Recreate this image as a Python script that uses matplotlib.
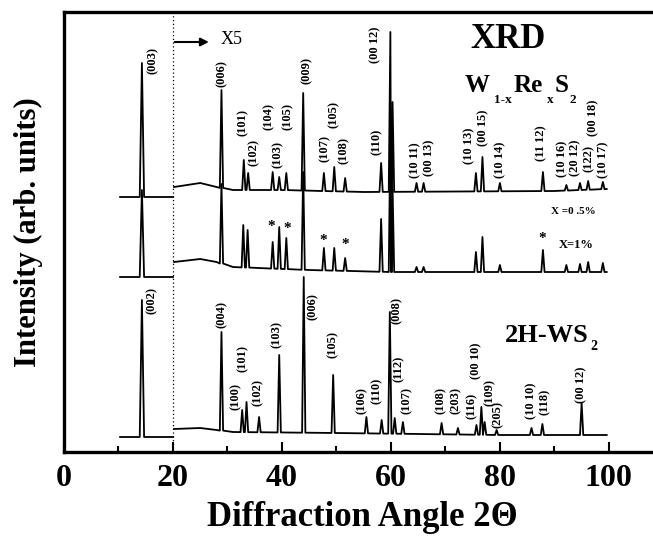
import numpy as np
import matplotlib
matplotlib.use('Agg')
import matplotlib.pyplot as plt

plt.rcParams['font.family'] = ['Liberation Serif', 'DejaVu Serif']
plt.rcParams['font.weight'] = 'bold'
plt.rcParams['axes.labelweight'] = 'bold'

# ---- x = 0.5 % sample (top trace) ----
top_left_pos = [14.3]
top_left_peak = [389]
top_left_base = 255
top_base_x = [20.2, 25.0, 28.0, 31.0, 40.0, 55.0, 90.0, 99.6]
top_base_y = [265, 269, 265, 262, 262, 260, 261, 263]
top_pos = [28.9, 33.0, 33.8, 38.3, 39.5, 40.8, 43.9, 47.7, 49.6, 51.6, 58.2,
           59.9, 60.3, 64.7, 66.0, 75.6, 76.8, 80.0, 87.9, 92.2, 94.7, 96.2, 98.9]
top_peak = [362, 292, 279, 280, 275, 279, 359, 279, 285, 274, 289,
            420, 350, 269, 269, 279, 295, 269, 280, 267, 269, 271, 270]

# ---- x = 1 % sample (middle trace) ----
mid_left_pos = [14.3]
mid_left_peak = [262]
mid_left_base = 175
mid_base_x = [20.2, 25.0, 28.0, 31.0, 45.0, 60.0, 99.6]
mid_base_y = [190, 193, 190, 185, 182, 180, 180]
mid_pos = [28.9, 32.9, 33.7, 38.3, 39.5, 40.8, 43.9, 47.7, 49.6, 51.6, 58.2,
           59.9, 60.3, 64.7, 66.0, 75.6, 76.8, 80.0, 87.9, 92.2, 94.7, 96.2, 98.9]
mid_peak = [268, 227, 222, 210, 225, 214, 280, 204, 204, 194, 233,
            320, 265, 185, 185, 200, 215, 187, 202, 187, 188, 190, 189]

# ---- 2H-WS2 (bottom trace) ----
bot_left_pos = [14.3]
bot_left_peak = [152]
bot_left_base = 15
bot_base_x = [20.2, 25.0, 28.0, 31.0, 50.0, 80.0, 99.6]
bot_base_y = [23, 24, 22, 20, 19, 17, 17]
bot_pos = [28.9, 32.7, 33.5, 35.8, 39.5, 44.0, 49.4, 55.5, 58.3, 59.8, 60.7,
           62.2, 69.3, 72.3, 75.7, 76.6, 77.2, 79.4, 85.8, 87.8, 95.0]
bot_peak = [120, 42, 50, 35, 97, 175, 77, 35, 32, 140, 34,
            30, 29, 24, 27, 45, 30, 22, 24, 28, 49]

# ---- peak labels ----
top_lbl = ['(003)', '(006)', '(101)', '(102)', '(104)', '(103)', '(105)', '(009)',
           '(107)', '(105)', '(108)', '(110)', '(00 12)', '(10 11)', '(00 13)',
           '(10 13)', '(00 15)', '(10 14)', '(11 12)', '(10 16)', '(20 12)',
           '(122)', '(00 18)', '(10 17)']
top_lbl_x = [16.3, 28.9, 32.9, 34.9, 37.5, 39.3, 41.0, 44.6, 47.9, 49.5, 51.4,
             57.4, 57.1, 64.4, 67.0, 74.3, 76.9, 80.0, 87.6, 91.5, 93.9, 96.3,
             97.1, 98.9]
top_lbl_y = [391, 378, 329, 299, 336, 298, 336, 382, 303, 338, 302, 310, 407,
             292, 294, 306, 324, 292, 309, 293, 294, 294, 334, 292]

bot_lbl = ['(002)', '(004)', '(100)', '(101)', '(102)', '(103)', '(006)', '(105)',
           '(106)', '(110)', '(008)', '(112)', '(107)', '(108)', '(203)', '(116)',
           '(00 10)', '(109)', '(205)', '(10 10)', '(118)', '(00 12)']
bot_lbl_x = [16.1, 28.9, 31.6, 32.8, 35.6, 39.0, 45.7, 49.4, 54.6, 57.4, 61.0,
             61.5, 62.9, 69.2, 71.9, 74.8, 75.7, 78.2, 79.7, 85.8, 88.3, 95.0]
bot_lbl_y = [151, 137, 55, 94, 59, 117, 145, 107, 51, 61, 142, 83, 51, 51, 51,
             46, 91, 59, 37, 51, 50, 67]

# impurity peaks in the 1 % sample
star_x = [38.1, 41.0, 47.5, 51.6, 87.8]
star_y = [225, 224, 212, 207, 214]


def pattern(x0, x1, base_x, base_y, pos, peak, hw):
    # baseline knots plus a narrow spike for every peak
    pts = [(x, y) for x, y in zip(base_x, base_y)
           if all(abs(x - p) > hw for p in pos)]
    for p, h in zip(pos, peak):
        b = np.interp(p, base_x, base_y)
        pts += [(p - hw, b), (p, h), (p + hw, b)]
    pts += [(x0, np.interp(x0, base_x, base_y)), (x1, np.interp(x1, base_x, base_y))]
    pts.sort()
    return [q[0] for q in pts], [q[1] for q in pts]


fig = plt.figure(figsize=(6.53, 5.38), dpi=100)
ax = fig.add_axes([64 / 653, 86 / 538, 589 / 653, 440 / 538])

lw = 1.3
for lp, lpk, lb, bx, by, ps, pk in [
        (top_left_pos, top_left_peak, top_left_base, top_base_x, top_base_y, top_pos, top_peak),
        (mid_left_pos, mid_left_peak, mid_left_base, mid_base_x, mid_base_y, mid_pos, mid_peak),
        (bot_left_pos, bot_left_peak, bot_left_base, bot_base_x, bot_base_y, bot_pos, bot_peak)]:
    xs, ys = pattern(10.3, 20.0, [10.3, 20.0], [lb, lb], lp, lpk, 0.4)
    ax.plot(xs, ys, color='k', lw=lw)
    xs, ys = pattern(20.2, 99.6, bx, by, ps, pk, 0.3)
    ax.plot(xs, ys, color='k', lw=lw)

for t, x, y in zip(top_lbl + bot_lbl, top_lbl_x + bot_lbl_x, top_lbl_y + bot_lbl_y):
    ax.text(x, y, t, rotation=90, ha='center', va='center', fontsize=9)

for x, y in zip(star_x, star_y):
    ax.text(x, y, '*', ha='center', va='center', fontsize=11)

ax.axvline(20, color='k', lw=0.9, ls=(0, (1, 2)))
ax.annotate('', xy=(27.1, 410), xytext=(19.8, 410),
            arrowprops=dict(arrowstyle='-|>', color='k', lw=1.5, mutation_scale=12))
ax.text(28.7, 412, 'X5', ha='left', va='center', fontsize=13, fontweight='normal')

ax.text(81.5, 412, 'XRD', ha='center', va='center', fontsize=25)
ax.text(73.6, 360, 'W', ha='left', va='baseline', fontsize=18)
ax.text(78.9, 349, '1-x', ha='left', va='baseline', fontsize=9.5)
ax.text(82.6, 360, 'Re', ha='left', va='baseline', fontsize=18)
ax.text(88.6, 349, 'x', ha='left', va='baseline', fontsize=9.5)
ax.text(90.1, 360, 'S', ha='left', va='baseline', fontsize=18)
ax.text(92.7, 349, '2', ha='left', va='baseline', fontsize=9.5)
ax.text(93.5, 241, 'X =0 .5%', ha='center', va='center', fontsize=8)
ax.text(94.0, 207, 'X=1%', ha='center', va='center', fontsize=9)
ax.text(81.0, 110, '2H-WS', ha='left', va='baseline', fontsize=19)
ax.text(96.6, 102, '2', ha='left', va='baseline', fontsize=10)

ax.set_xlim(0, 108.1)
ax.set_ylim(0, 440)
ax.set_yticks([])
ax.set_xticks(range(0, 101, 20))
ax.set_xticks(range(10, 100, 20), minor=True)
ax.tick_params(axis='x', which='major', direction='in', length=7, width=1.5,
               labelsize=23, pad=9)
ax.tick_params(axis='x', which='minor', direction='in', length=4.3, width=1.5)
for s in ['left', 'bottom', 'top']:
    ax.spines[s].set_linewidth(2.4)
ax.spines['right'].set_visible(False)

ax.set_xlabel('Diffraction Angle 2\u0398', fontsize=25, fontweight='bold')
ax.xaxis.set_label_coords(0.506, -0.15)
ax.xaxis.label.set_va('center')
ax.set_ylabel('Intensity (arb. units)', fontsize=22, fontweight='bold')
ax.yaxis.set_label_coords(-0.061, 0.5)
ax.yaxis.label.set_va('center')

fig.savefig('out.png', dpi=100)
